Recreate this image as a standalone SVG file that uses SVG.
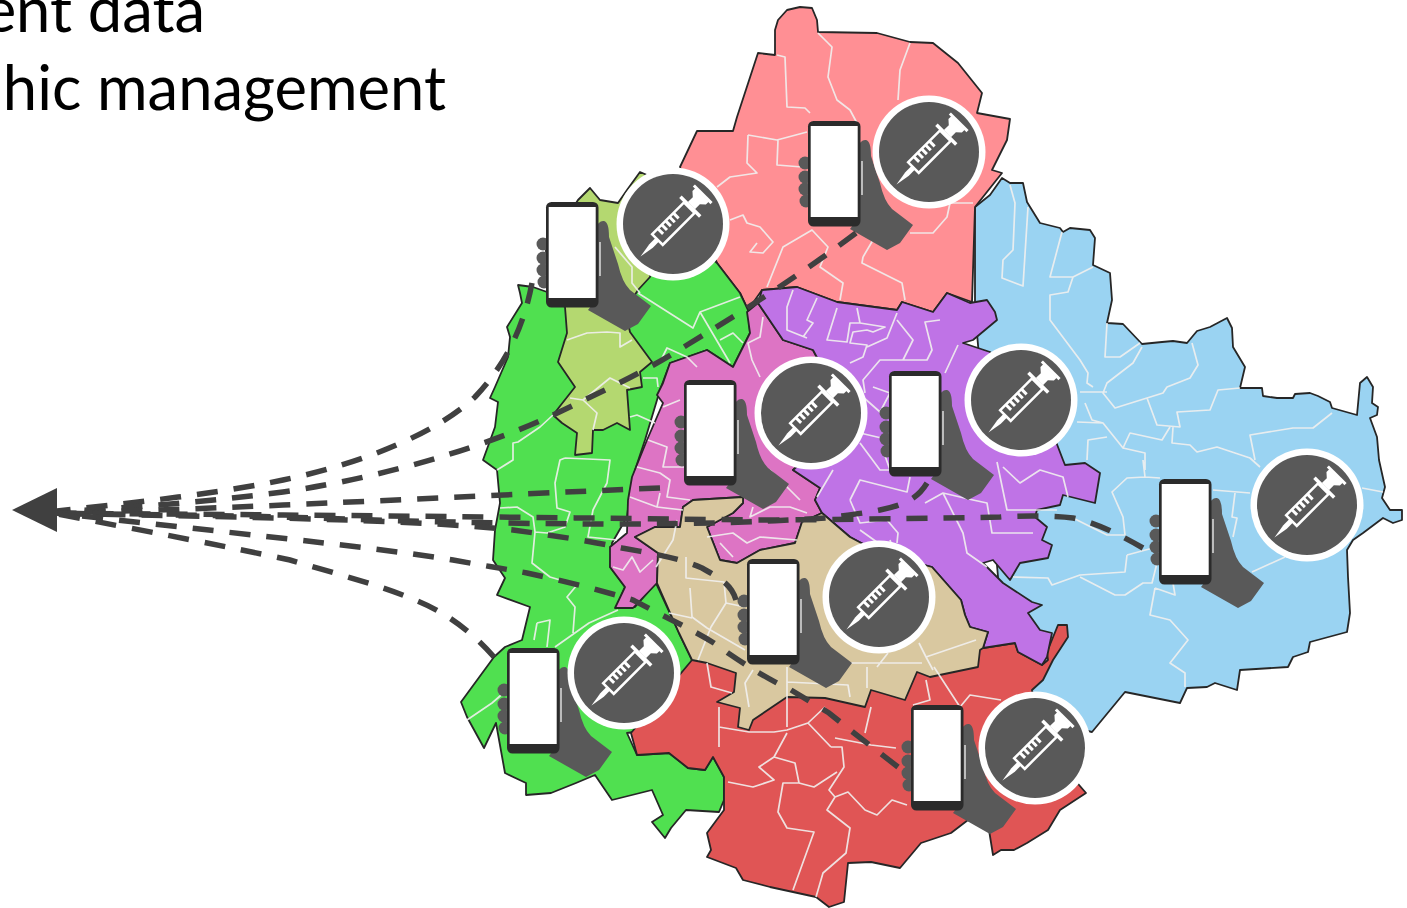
<svg xmlns="http://www.w3.org/2000/svg" width="1407" height="908" viewBox="0 0 1407 908">
<style>
.r{stroke:#262626;stroke-width:1.8;stroke-linejoin:round}
.w{fill:none;stroke:#f1f0ee;stroke-width:1.7;stroke-linejoin:round;stroke-opacity:.9}
.c{fill:none;stroke:#404040;stroke-width:5.500;stroke-dasharray:21 16}
.t{font-family:"Lato","Liberation Sans",sans-serif;font-size:61.500px;fill:#000;text-anchor:end}
.h{fill:#595959}
</style>
<defs>
<g id="phone">
<path class="h" d="M48,28Q53,18 58,19Q63,20 63,35L72,62Q76,80 84,88L105,104L92,122L79,129L42,108L48,100Z"/>
<circle class="h" cx="-3" cy="42" r="6.500"/><circle class="h" cx="-3" cy="56" r="6.500"/><circle class="h" cx="-3" cy="68" r="6.500"/><circle class="h" cx="-2" cy="80" r="6.500"/>
<path d="M54,40V74" stroke="#fff" stroke-width="1.500" stroke-opacity=".8"/>
<rect width="52.500" height="105.500" rx="5.500" fill="#2b2b2b"/>
<rect x="2.700" y="5" width="47" height="91" fill="#fff"/>
</g>
<g id="badge">
<circle r="56.500" fill="#fff"/><circle r="50" fill="#595959"/>
<g transform="rotate(-45)" stroke="#fff" fill="none" stroke-width="2.500">
<path d="M-46,0L-31,-2.500H-22V2.500H-31Z" fill="#fff" stroke="none"/>
<rect x="-22" y="-7.500" width="45" height="15"/>
<path d="M-14,-7V0M-8.500,-7V0M-3,-7V0M2.500,-7V0M8,-7V0" stroke-width="3"/>
<path d="M24.500,-14V14" stroke-width="3.500"/>
<path d="M26,-5H33L37,-9.500H41V9.500H37L33,5H26Z" fill="#fff" stroke="none"/>
<path d="M42,-12.500V12.500" stroke-width="3"/>
</g>
</g>
</defs>

<text class="t" x="205" y="32">ent data</text>
<text class="t" x="446" y="110">hic management</text>

<g id="map">
<polygon id="blue" class="r" fill="#9AD3F2" points="975,207 990,195 1002,178 1010,183 1023,183 1027,202 1040,223 1060,228 1063,232 1070,228 1090,230 1095,238 1093,265 1110,273 1112,300 1107,323 1123,324 1142,344 1162,342 1173,341 1187,343 1197,331 1210,327 1227,318 1232,328 1233,347 1245,367 1240,388 1262,388 1263,396 1277,398 1293,398 1295,394 1310,393 1318,396 1330,402 1332,408 1357,415 1360,383 1367,377 1373,387 1372,403 1378,407 1377,415 1370,418 1377,437 1379,460 1385,487 1382,498 1390,510 1402,510 1402,520 1393,523 1383,518 1363,533 1353,540 1347,550 1348,577 1350,613 1347,632 1310,642 1308,652 1293,657 1288,667 1240,670 1237,690 1215,683 1207,687 1187,688 1180,703 1125,692 1092,732 1040,720 1000,600 975,310"/>
<polygon id="pink" class="r" fill="#FF8F94" points="775,30 778,20 787,10 800,7 812,8 817,20 818,32 877,33 910,42 933,43 958,63 982,93 977,113 1010,119 1007,140 992,170 1002,173 975,207 972,302 947,293 933,312 902,302 897,310 837,302 797,287 762,290 748,310 740,293 717,263 680,167 697,131 733,131 737,117 758,53 775,55"/>
<polygon id="green" class="r" fill="#50E050" points="518,285 533,287 547,292 600,290 650,265 680,230 717,263 740,293 748,310 750,333 733,367 707,350 670,363 660,390 645,440 635,470 629,500 627,517 612,543 610,567 625,587 616,608 635,607 656,583 679,633 692,660 671,727 627,733 637,755 669,753 688,768 705,770 713,757 724,777 724,800 719,812 686,810 671,828 665,838 652,822 663,815 652,790 612,800 595,775 576,783 551,793 526,795 526,783 505,773 496,723 484,748 467,717 461,702 494,657 505,647 522,640 530,607 497,595 505,578 493,560 495,530 500,503 497,470 483,460 495,427 498,402 490,398 495,387 508,357 510,337 507,327 522,303 520,293"/>
<polygon id="red" class="r" fill="#E05555" points="692,660 631,733 637,755 669,753 688,768 705,770 713,757 724,777 724,810 707,833 711,850 707,857 736,868 743,880 770,887 816,897 829,907 844,902 848,863 871,862 900,868 921,843 951,833 968,820 989,830 993,855 1001,850 1014,850 1027,843 1048,830 1060,810 1086,793 1040,740 1032,690 1043,680 1053,660 1068,637 1067,625 1058,625 1047,652 1048,660 1042,665 1018,652 1015,643 983,648 900,640"/>
<polygon id="orchid" class="r" fill="#DD74C4" points="747,312 758,303 783,340 813,350 850,420 793,470 820,488 815,500 822,513 802,522 795,543 760,550 737,563 720,560 707,527 733,513 743,503 743,497 693,500 683,507 680,527 655,527 635,537 658,553 657,583 633,608 615,608 625,587 610,567 610,547 627,533 628,500 632,477 647,440 663,403 657,395 663,383 670,363 707,350 733,367 750,333"/>
<polygon id="purple" class="r" fill="#BF73E6" points="758,303 762,290 797,287 837,302 897,310 902,302 933,312 947,293 970,303 987,300 995,312 997,320 973,340 963,343 990,352 1040,400 1063,460 1065,465 1085,463 1100,473 1095,503 1063,495 1060,505 1037,510 1035,517 1047,527 1042,540 1052,545 1048,558 1020,563 1010,580 993,560 983,563 1003,583 1032,602 1042,605 1028,613 1040,630 1052,633 1047,657 1042,665 1018,652 1015,643 983,648 988,632 970,627 965,615 961,600 932,567 880,553 850,537 822,513 815,500 820,488 793,470 850,420 813,350 783,340"/>
<polygon id="tan" class="r" fill="#D9C8A0" points="635,537 655,527 680,527 683,507 693,500 743,497 743,503 733,513 707,527 720,560 737,563 760,550 795,543 802,522 822,513 850,537 880,553 932,567 961,600 965,615 970,627 988,632 983,648 980,650 978,667 930,677 917,672 905,700 871,690 865,707 825,698 787,697 753,720 749,730 738,727 740,708 717,702 734,692 736,673 707,663 692,660 679,633 657,583 658,553"/>
<polygon id="lime" class="r" fill="#B4D870" points="565,307 547,292 546,250 578,200 590,188 600,200 618,203 627,190 640,172 647,175 660,200 650,277 638,290 625,310 630,332 652,362 640,372 642,387 627,390 630,430 617,423 603,430 593,430 592,453 575,455 577,433 562,423 553,415 575,387 558,362 567,333"/>
<g id="boundaries">
<path class="w" d="M818,33L832,47L828,77L837,100L850,110L857,123M910,43L900,70L898,100M777,55L785,57L787,107L805,108L810,113M748,135L777,140L807,132M748,135L747,163L757,173L730,177L717,187M778,140L777,165L802,167M730,220L743,215L747,223L760,227L773,242L763,253L750,252L757,243M767,287L783,247L812,230L828,247L820,267L843,283L840,300M863,257L862,263L902,283L905,300M863,257L873,240M910,233L933,233L947,217L950,203L973,203"/>
<path class="w" d="M638,293L693,328L700,312L740,297M700,312L730,363M720,340L733,333L743,343M662,358L667,348L687,357L697,367M467,720L492,703L507,690M537,623L550,620L547,647M534,640L537,623M555,647L589,623L618,610M553,415L540,427L518,442L513,443L513,460L497,470M565,458L560,460L555,483L557,508L570,512L565,527L547,533L535,532M565,458L610,460L607,483L593,510L588,537L617,540M500,508L517,507L533,517L535,532L532,563L550,577L577,585L567,597L575,607L573,633M630,417L637,415L655,423M643,378L657,378L658,387"/>
<path class="w" d="M567,340L587,333L607,332L620,333L620,347L632,340M570,398L583,400L610,378L630,388M583,400L597,413L593,430M615,247L632,267L632,283L640,293"/>
<path class="w" d="M763,317L760,337L748,343L752,360L760,377M663,407L680,400M648,440L667,447L663,467L690,467M637,467L660,473L670,480L667,497L690,500M660,493L657,507L630,497M657,507L683,510M753,507L750,517L770,507L790,507L807,513M707,537L733,533L747,543L760,537L797,540M720,543L733,557M613,567L623,570L632,557L640,572L653,560M770,470L790,490L800,500"/>
<path class="w" d="M793,290L787,307L787,330L807,338M817,298L807,320L813,323L803,337M837,308L827,340L847,342L850,323L860,323L857,308M860,323L885,327L873,332L867,330L853,332L850,343L867,345L863,357L850,363M897,313L887,338L867,347M897,320L913,340L903,360L927,360L932,350L925,322L940,320M958,345L945,373M903,360L880,360L863,380L865,393M873,387L890,393L880,412L863,397M860,433L890,440M860,443L880,470L890,470L883,450M833,470L817,497M850,500L860,480L907,492L910,477M850,500L860,523L887,520L898,533L897,543M925,503L943,493L973,500L987,503L992,533L1033,533M943,493L963,533L967,553L987,567M997,462L1007,510L1057,510M1003,467L1020,483L1040,470L1063,477L1068,497"/>
<path class="w" d="M1010,185L1015,203L1013,250L1003,260L1002,278L1023,286L1028,207M1062,232L1050,277L1073,277L1093,267M1073,277L1068,292L1050,295L1050,320L1080,360L1088,373L1087,383L1093,387M1107,323L1105,357L1120,357L1140,343M1142,347L1133,363L1107,383L1103,393L1115,408L1147,398L1163,393L1167,387L1190,378L1198,365L1192,343M1080,392L1107,392M1147,398L1157,425L1180,427L1177,412L1210,410L1218,390L1240,388M1332,413L1313,428L1293,428L1250,435L1255,460M1085,403L1092,420L1103,423L1123,448L1130,433L1162,440L1170,427M1173,427L1172,443L1190,445L1197,452L1217,447L1250,458L1260,467M1077,422L1103,423M1123,448L1145,453L1145,470M1107,437L1088,440L1087,460M1143,460L1145,477L1160,478M1145,477L1127,478L1112,492L1123,517L1125,535L1107,535L1073,518M1127,555L1125,572L1080,575L1052,585L1048,578L1013,577M1080,577L1115,595L1125,595L1143,583L1152,583L1157,563M1155,588L1175,595L1173,583M1155,588L1150,615L1170,620L1188,640L1170,663L1185,673L1185,687M1127,555L1153,548M1252,572L1285,557M1213,490L1250,493M1235,493L1232,517L1237,518L1233,537M1362,488L1383,492"/>
<path class="w" d="M677,520L673,540L656,567M686,557L686,578L724,582L726,603L711,627L698,660M690,588L692,617L707,628M669,613L692,618M726,603L745,607M707,628L745,650M919,643L926,657L976,640M926,657L933,670M867,667L867,688M787,682L848,685L850,697M787,667L787,697M753,670L745,683L749,707M829,663L922,663M888,653L877,667M860,530L895,555L890,540"/>
<path class="w" d="M707,663L711,687L732,693M719,707L719,747M719,727L749,732L774,732L787,730L808,723L831,747M787,697L787,727M825,707L808,723M787,733L774,757L759,767L774,780L753,787L728,782M774,757L795,763L799,783L783,783L778,812L787,828L814,832L793,890M799,783L814,787L837,772M831,747L842,747L844,767L829,790L835,797L827,810L850,828L846,853L823,873L816,897M835,797L848,792L865,810L877,815L892,800L907,805M835,738L871,745L896,748M871,707L865,733M934,667L960,707L970,695L1001,700M926,680L930,700L913,705"/>
</g>
</g>

<g id="nodes">
<g id="node-lime"><use href="#phone" x="546" y="202"/><use href="#badge" x="673" y="224"/></g>
<g id="node-pink"><use href="#phone" x="808" y="121"/><use href="#badge" x="929" y="152"/></g>
<g id="node-orchid"><use href="#phone" x="684" y="380"/><use href="#badge" x="811" y="413"/></g>
<g id="node-purple"><use href="#phone" x="889" y="371"/><use href="#badge" x="1021" y="400"/></g>
<g id="node-blue"><use href="#phone" x="1159" y="479"/><use href="#badge" x="1307" y="505"/></g>
<g id="node-tan"><use href="#phone" x="747" y="559"/><use href="#badge" x="879" y="597"/></g>
<g id="node-green"><use href="#phone" x="507" y="648"/><use href="#badge" x="624" y="673"/></g>
<g id="node-red"><use href="#phone" x="911" y="705"/><use href="#badge" x="1035" y="748"/></g>
</g>

<g id="connectors">
<path class="c" d="M532,283C525,320 510,360 475,397C440,430 370,462 283,480C210,495 130,503 57,511"/>
<path class="c" d="M856,233C800,275 745,310 687,345C640,375 590,397 553,415C500,440 400,475 283,492C200,503 120,508 57,512"/>
<path class="c" d="M660,488C560,492 400,500 283,505C200,509 120,511 57,513"/>
<path class="c" d="M927,483C918,498 905,505 880,510C860,514 840,516 827,518C760,522 700,524 620,524C500,524 400,521 283,517C200,515 120,514 57,514"/>
<path class="c" d="M1143,548C1120,535 1095,522 1073,518C1050,515 1010,516 1000,517C900,519 800,520 753,520C600,518 400,516 283,515C200,514 120,514 57,513"/>
<path class="c" d="M736,600C732,585 720,578 702,568C680,558 650,553 622,548C590,541 550,535 513,530C400,518 200,517 57,513"/>
<path class="c" d="M898,767L854,733L829,713L791,690C770,680 750,668 728,653C705,635 680,625 633,600C600,590 560,580 527,573C500,568 480,565 453,560C360,545 200,530 57,513"/>
<path class="c" d="M494,657C470,630 445,612 415,600C380,585 330,572 290,560C220,545 140,530 57,514"/>
</g>
<polygon id="arrowhead" fill="#404040" points="12,510 57,488 57,532"/>
</svg>
